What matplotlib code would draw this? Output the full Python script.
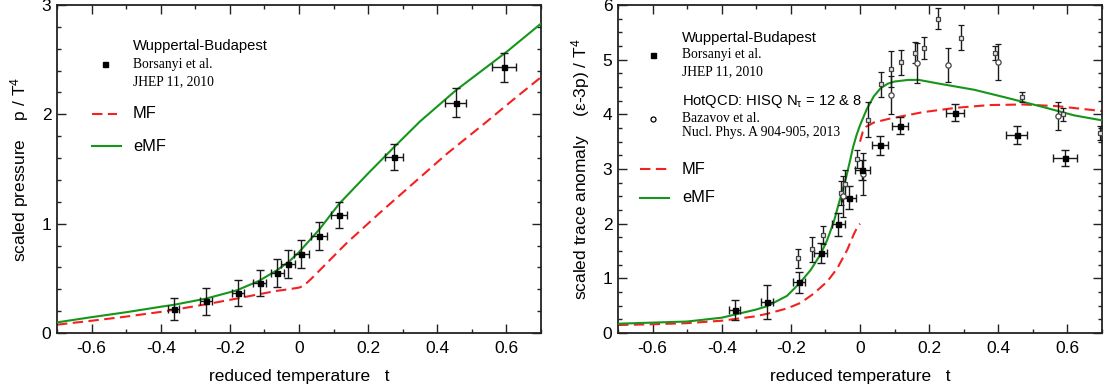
import matplotlib
matplotlib.use("Agg")
import matplotlib.pyplot as plt
from matplotlib.ticker import MultipleLocator

plt.rcParams["font.family"] = ["Liberation Sans", "DejaVu Sans"]
plt.rcParams["mathtext.fontset"] = "custom"
plt.rcParams["mathtext.rm"] = "Liberation Sans"
plt.rcParams["mathtext.it"] = "Liberation Sans"

# Wuppertal-Budapest lattice points (same temperatures in both panels)
t_wb = [-0.363, -0.268, -0.177, -0.114, -0.063, -0.032, 0.007, 0.058, 0.116, 0.275, 0.453, 0.593]
t_wb_err = [0.016, 0.017, 0.018, 0.018, 0.019, 0.020, 0.021, 0.022, 0.023, 0.026, 0.030, 0.034]
p_wb = [0.219, 0.289, 0.365, 0.457, 0.548, 0.630, 0.724, 0.889, 1.081, 1.610, 2.107, 2.429]
p_wb_err = [0.10, 0.12, 0.12, 0.12, 0.13, 0.13, 0.13, 0.13, 0.12, 0.12, 0.13, 0.13]
e_wb = [0.426, 0.56, 0.926, 1.46, 1.99, 2.47, 2.98, 3.43, 3.79, 4.03, 3.62, 3.20]
e_wb_err = [0.18, 0.31, 0.19, 0.18, 0.21, 0.21, 0.19, 0.18, 0.155, 0.15, 0.165, 0.14]

# HotQCD HISQ, squares (N_tau = 12) and circles (N_tau = 8)
t_sq = [-0.18, -0.139, -0.106, -0.055, -0.042, -0.008, 0.023, 0.060, 0.090, 0.119,
        0.158, 0.186, 0.225, 0.292, 0.390, 0.470, 0.587, 0.695]
e_sq = [1.364, 1.535, 1.79, 2.56, 2.73, 3.18, 3.90, 4.55, 4.83, 4.95,
        5.13, 5.22, 5.75, 5.40, 5.12, 4.31, 4.00, 3.66]
e_sq_err = [0.18, 0.23, 0.17, 0.22, 0.25, 0.17, 0.32, 0.23, 0.33, 0.23,
            0.20, 0.20, 0.19, 0.23, 0.13, 0.09, 0.12, 0.13]
t_ci = [-0.048, 0.010, 0.089, 0.165, 0.254, 0.400, 0.574]
e_ci = [2.50, 2.91, 4.36, 4.94, 4.91, 4.96, 3.97]
e_ci_err = [0.37, 0.38, 0.35, 0.36, 0.31, 0.33, 0.26]

# model curves, pressure panel
t_emf_p = [-0.70, -0.60, -0.50, -0.40, -0.36, -0.27, -0.18, -0.115, -0.065, -0.03, 0.0,
           0.058, 0.116, 0.2, 0.275, 0.35, 0.454, 0.6, 0.7]
emf_p = [0.097, 0.145, 0.19, 0.24, 0.259, 0.314, 0.39, 0.478, 0.572, 0.65, 0.74,
         0.944, 1.181, 1.46, 1.70, 1.935, 2.22, 2.57, 2.83]
t_mf_p = [-0.70, -0.60, -0.50, -0.40, -0.36, -0.27, -0.18, -0.115, -0.065, -0.03, 0.0,
          0.012, 0.025, 0.04, 0.137, 0.234, 0.331, 0.428, 0.538, 0.622, 0.70]
mf_p = [0.076, 0.112, 0.15, 0.193, 0.213, 0.262, 0.315, 0.355, 0.385, 0.40, 0.415,
        0.43, 0.465, 0.51, 0.82, 1.10, 1.37, 1.64, 1.92, 2.14, 2.34]

# model curves, trace anomaly panel
t_emf_e = [-0.70, -0.60, -0.50, -0.40, -0.363, -0.30, -0.269, -0.211, -0.175, -0.143,
           -0.114, -0.095, -0.076, -0.06, -0.05, -0.04, -0.03, -0.02, -0.01, 0.0,
           0.02, 0.04, 0.06, 0.08, 0.10, 0.14, 0.17, 0.23, 0.33, 0.42, 0.52, 0.62, 0.70]
emf_e = [0.17, 0.19, 0.21, 0.28, 0.335, 0.43, 0.49, 0.68, 0.91, 1.15,
         1.44, 1.70, 2.03, 2.40, 2.62, 2.85, 3.12, 3.40, 3.62, 3.80,
         4.10, 4.33, 4.48, 4.56, 4.60, 4.63, 4.63, 4.56, 4.45, 4.31, 4.15, 3.98, 3.89]
t_mf_e_lo = [-0.70, -0.60, -0.50, -0.40, -0.308, -0.269, -0.211, -0.172, -0.134, -0.095,
             -0.066, -0.037, -0.017, -0.008, 0.0]
mf_e_lo = [0.146, 0.16, 0.18, 0.225, 0.30, 0.35, 0.45, 0.55, 0.72, 0.94,
           1.18, 1.52, 1.82, 1.93, 2.0]
t_mf_e_hi = [0.0, 0.008, 0.017, 0.04, 0.085, 0.182, 0.279, 0.376, 0.472, 0.569, 0.70]
mf_e_hi = [3.50, 3.68, 3.77, 3.85, 3.92, 4.04, 4.12, 4.17, 4.18, 4.15, 4.06]

x_ticks = [-0.6, -0.4, -0.2, 0, 0.2, 0.4, 0.6]
x_ticklabels = ["-0.6", "-0.4", "-0.2", "0", "0.2", "0.4", "0.6"]

GREEN = "#15961a"
RED = "#f52020"
DASH = (0, (5, 2.6))

fig = plt.figure(figsize=(11.05, 3.92), dpi=100)
ax1 = fig.add_axes([57 / 1105, 59 / 392, 484 / 1105, 328 / 392])
ax2 = fig.add_axes([618 / 1105, 59 / 392, 484 / 1105, 328 / 392])


def style_axes(ax, ymax, yminor):
    ax.set_xticks(x_ticks)
    ax.set_xticklabels(x_ticklabels)
    ax.set_yticks(range(ymax + 1))
    ax.set_yticklabels([str(v) for v in range(ymax + 1)])
    ax.xaxis.set_minor_locator(MultipleLocator(0.1))
    ax.yaxis.set_minor_locator(MultipleLocator(yminor))
    ax.set_xlim(-0.7, 0.7)
    ax.set_ylim(0, ymax)
    ax.tick_params(which="both", direction="in", top=True, right=True,
                   labelsize=12.5, width=1.0, color="#222222")
    ax.tick_params(which="major", length=6.5, pad=6)
    ax.tick_params(axis="y", which="major", pad=4)
    ax.tick_params(which="minor", length=3.2)
    for s in ax.spines.values():
        s.set_linewidth(1.3)
        s.set_color("#222222")
    ax.set_xlabel("reduced temperature   t", fontsize=12.5, labelpad=9)


def wb_errorbar(ax, y, yerr):
    ax.errorbar(t_wb, y, yerr=yerr, xerr=t_wb_err, fmt="s", ms=3.6,
                color="black", ecolor="#1a1a1a", elinewidth=1.0, capsize=3.0,
                capthick=1.0, zorder=4)


# left: pressure
style_axes(ax1, 3, 0.2)
ax1.plot(t_mf_p, mf_p, color=RED, lw=1.5, ls=DASH, zorder=2)
ax1.plot(t_emf_p, emf_p, color=GREEN, lw=1.5, zorder=3)
wb_errorbar(ax1, p_wb, p_wb_err)
ax1.set_ylabel("scaled pressure    p / T$^4$", fontsize=12.5, labelpad=8)

tr = ax1.transAxes
ax1.text(0.157, 0.875, "Wuppertal-Budapest", transform=tr, fontsize=10.6, va="center")
ax1.plot([0.099], [0.820], "s", ms=3.6, color="black", transform=tr)
ax1.text(0.157, 0.820, "Borsanyi et al.", transform=tr, fontsize=9.8, va="center",
         family="Liberation Serif")
ax1.text(0.157, 0.766, "JHEP 11, 2010", transform=tr, fontsize=9.8, va="center",
         family="Liberation Serif")
ax1.plot([0.0717, 0.123], [0.668, 0.668], color=RED, lw=1.5, ls=DASH, transform=tr)
ax1.text(0.157, 0.668, "MF", transform=tr, fontsize=11.8, va="center")
ax1.plot([0.0717, 0.1316], [0.570, 0.570], color=GREEN, lw=1.5, transform=tr)
ax1.text(0.157, 0.570, "eMF", transform=tr, fontsize=11.8, va="center")

# right: trace anomaly
style_axes(ax2, 6, 0.25)
ax2.plot(t_mf_e_lo, mf_e_lo, color=RED, lw=1.5, ls=DASH, zorder=2)
ax2.plot(t_mf_e_hi, mf_e_hi, color=RED, lw=1.5, ls=DASH, zorder=2)
ax2.plot(t_emf_e, emf_e, color=GREEN, lw=1.5, zorder=3)
ax2.errorbar(t_sq, e_sq, yerr=e_sq_err, fmt="s", ms=3.4, mfc="#e8e8e8", mec="#444444",
             mew=0.9, ecolor="#1a1a1a", elinewidth=1.0, capsize=2.3, capthick=1.0, zorder=4)
ax2.errorbar(t_ci, e_ci, yerr=e_ci_err, fmt="o", ms=3.8, mfc="white", mec="#444444",
             mew=0.9, ecolor="#1a1a1a", elinewidth=1.0, capsize=2.3, capthick=1.0, zorder=4)
wb_errorbar(ax2, e_wb, e_wb_err)
ax2.set_ylabel("scaled trace anomaly    (\u03b5-3p) / T$^4$", fontsize=12.5, labelpad=8)

tr = ax2.transAxes
ax2.text(0.132, 0.899, "Wuppertal-Budapest", transform=tr, fontsize=10.6, va="center")
ax2.plot([0.072], [0.848], "s", ms=3.6, color="black", transform=tr)
ax2.text(0.132, 0.848, "Borsanyi et al.", transform=tr, fontsize=9.8, va="center",
         family="Liberation Serif")
ax2.text(0.132, 0.797, "JHEP 11, 2010", transform=tr, fontsize=9.8, va="center",
         family="Liberation Serif")
ax2.text(0.132, 0.707, "HotQCD: HISQ N$_\u03c4$ = 12 & 8", transform=tr, fontsize=10.6,
         va="center")
ax2.plot([0.072], [0.652], "o", ms=3.6, mfc="white", mec="black", mew=0.9, transform=tr)
ax2.text(0.132, 0.655, "Bazavov et al.", transform=tr, fontsize=9.8, va="center",
         family="Liberation Serif")
ax2.text(0.132, 0.610, "Nucl. Phys. A 904-905, 2013", transform=tr, fontsize=9.8,
         va="center", family="Liberation Serif")
ax2.plot([0.045, 0.101], [0.500, 0.500], color=RED, lw=1.5, ls=DASH, transform=tr)
ax2.text(0.132, 0.500, "MF", transform=tr, fontsize=11.8, va="center")
ax2.plot([0.045, 0.105], [0.412, 0.412], color=GREEN, lw=1.5, transform=tr)
ax2.text(0.132, 0.412, "eMF", transform=tr, fontsize=11.8, va="center")

fig.savefig("out.png", dpi=100)
